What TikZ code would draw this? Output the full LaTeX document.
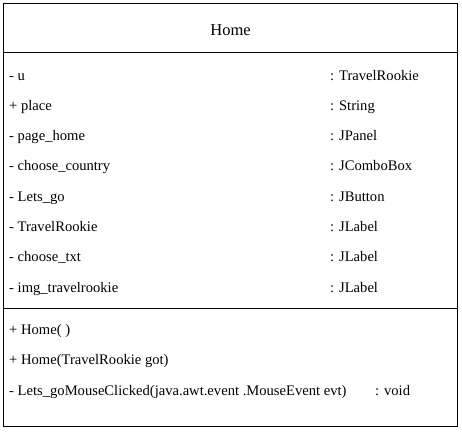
\documentclass[tikz,border=0pt]{standalone}
\usepackage{fontspec}
\setmainfont{Liberation Serif}
\begin{document}
\begin{tikzpicture}[x=1pt,y=-1pt,
  frame/.style={draw=black,line width=1pt},
  member/.style={anchor=base west,inner sep=0pt,font=\fontsize{14.6}{17}\selectfont},
  title/.style={anchor=base,inner sep=0pt,font=\fontsize{16.5}{19}\selectfont}]
\useasboundingbox (0,0) rectangle (462,431);
% class box and compartments
\draw[frame] (3.5,3.5) rectangle (457,426);
\draw[frame] (3.5,52) -- (457,52);
\draw[frame] (3.5,308) -- (457,308);
\node[title] (name) at (230.5,35) {Home};
% attributes
\foreach \i/\n/\t in {0/- u/TravelRookie,1/+ place/String,2/- page\_home/JPanel,
  3/- choose\_country/JComboBox,4/- Lets\_go/JButton,5/- TravelRookie/JLabel,
  6/- choose\_txt/JLabel,7/- img\_travelrookie/JLabel}{
  \node[member] (attr\i) at (9,{80+30.3*\i}) {\n};
  \node[member] (type\i) at (330,{80+30.3*\i}) {: \t};
}
% operations
\node[member] (op0) at (9,334) {+ Home( )};
\node[member] (op1) at (9,364.5) {+ Home(TravelRookie got)};
\node[member] (op2) at (9,395) {- Lets\_goMouseClicked(java.awt.event .MouseEvent evt)};
\node[member] (ret2) at (375,395) {: void};
\end{tikzpicture}
\end{document}
